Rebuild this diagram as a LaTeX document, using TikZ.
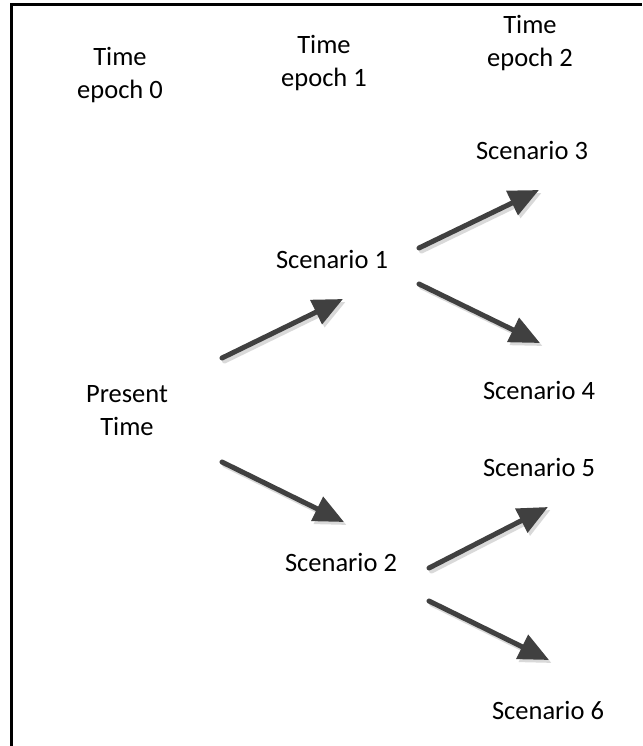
\documentclass[tikz,border=0pt]{standalone}
\usepackage{fontspec}
\setmainfont{Carlito}
\usepackage{xcolor}
\usepackage{tikz}
\usetikzlibrary{arrows.meta}

\definecolor{arrowgray}{HTML}{404040}
\definecolor{shadowgray}{HTML}{D9D9D9}

\begin{document}
\begin{tikzpicture}[x=1pt, y=-1pt,
    lbl/.style={align=center, inner sep=0pt, font=\fontsize{26.5}{33}\selectfont},
    arr/.style={line width=5pt, draw=arrowgray, line cap=round, -{Triangle[length=30pt,width=26pt]}},
    arrshadow/.style={line width=5pt, draw=shadowgray, line cap=round, -{Triangle[length=30pt,width=26pt]}}]
    \useasboundingbox (0,0) rectangle (642,746);
    \draw[line width=2.6pt] (11.7,746) -- (11.7,4.5) -- (642,4.5);

    % epoch headers
    \node[lbl] (e0) at (120, 75) {Time\\epoch 0};
    \node[lbl] (e1) at (324, 63) {Time\\epoch 1};
    \node[lbl] (e2) at (530, 43) {Time\\epoch 2};

    % scenario tree
    \node[lbl] (pt) at (127, 411) {Present\\Time};
    \node[lbl] (s1) at (332, 259) {Scenario 1};
    \node[lbl] (s2) at (341, 562) {Scenario 2};
    \node[lbl] (s3) at (532, 150) {Scenario 3};
    \node[lbl] (s4) at (539, 390) {Scenario 4};
    \node[lbl] (s5) at (539, 467) {Scenario 5};
    \node[lbl] (s6) at (548, 710) {Scenario 6};

    \coordinate (pt1) at (222, 358);  \coordinate (s1in) at (343, 299);
    \coordinate (pt2) at (222, 462);  \coordinate (s2in) at (344, 522);
    \coordinate (s1a) at (419, 248);  \coordinate (s3in) at (539, 190);
    \coordinate (s1b) at (419, 284);  \coordinate (s4in) at (540, 343);
    \coordinate (s2a) at (429, 568);  \coordinate (s5in) at (548, 507);
    \coordinate (s2b) at (429, 601);  \coordinate (s6in) at (549, 660);

    \foreach \a/\b in {pt1/s1in, pt2/s2in, s1a/s3in, s1b/s4in, s2a/s5in, s2b/s6in} {
        \draw[arrshadow] ([shift={(2.5,3)}]\a) -- ([shift={(2.5,3)}]\b);
        \draw[arr] (\a) -- (\b);
    }
\end{tikzpicture}
\end{document}
